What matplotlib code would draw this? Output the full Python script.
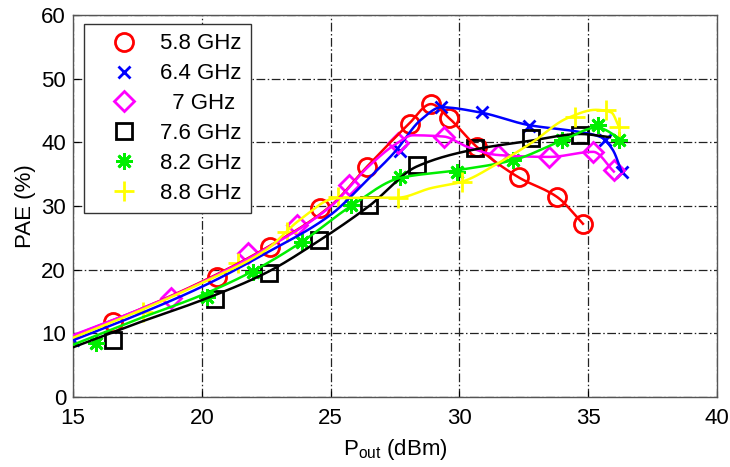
import numpy as np
import matplotlib
matplotlib.use("Agg")
import matplotlib.pyplot as plt
from matplotlib.lines import Line2D

plt.rcParams['font.family'] = ['Liberation Sans', 'DejaVu Sans']

labels = ['5.8 GHz', '6.4 GHz', '  7 GHz', '7.6 GHz', '8.2 GHz', '8.8 GHz']
colors = ['#ff0000', '#0000ff', '#ff00ff', '#000000', '#00ee00', '#ffff00']
markers = ['o', 'x', 'D', 's', (8, 2, 0), '+']
msizes = [13, 9, 10, 11, 12, 14]

# measured points (markers)
f58_x = [16.55, 20.6, 22.65, 24.6, 26.4, 28.1, 28.9, 29.6, 30.7, 32.3, 33.8, 34.8]
f58_y = [11.7, 18.8, 23.6, 29.6, 36.1, 42.9, 46.0, 43.8, 39.2, 34.5, 31.4, 27.2]
f64_x = [15.0, 27.7, 29.3, 30.9, 32.7, 35.65, 36.3]
f64_y = [9.0, 38.6, 45.5, 44.8, 42.5, 40.3, 35.3]
f70_x = [18.8, 21.8, 23.7, 25.7, 27.6, 29.4, 31.5, 33.5, 35.2, 36.0]
f70_y = [15.5, 22.6, 27.0, 33.3, 39.9, 40.8, 38.0, 37.7, 38.5, 35.6]
f76_x = [16.55, 20.5, 22.6, 24.55, 26.5, 28.35, 30.6, 32.8, 34.7]
f76_y = [8.9, 15.4, 19.5, 24.6, 30.1, 36.4, 39.1, 40.6, 41.1]
f82_x = [15.9, 20.2, 22.0, 23.9, 25.8, 27.7, 29.9, 32.1, 34.0, 35.4, 36.2]
f82_y = [8.4, 15.7, 19.6, 24.4, 30.1, 34.5, 35.3, 37.2, 40.3, 42.7, 40.3]
f88_x = [17.7, 21.4, 23.3, 25.3, 27.6, 30.1, 34.5, 35.7, 36.2]
f88_y = [13.3, 21.0, 25.9, 31.4, 31.2, 33.8, 44.0, 45.1, 42.4]

# fitted curves (knots)
c58_x = [15.0, 17.5, 20.0, 22.5, 25.0, 26.4, 28.0, 28.9, 29.6, 30.7, 32.3, 33.8, 34.8]
c58_y = [9.6, 13.6, 18.1, 23.4, 30.0, 36.1, 42.7, 46.0, 43.8, 39.2, 34.5, 31.4, 27.2]
c64_x = [15.0, 17.5, 20.0, 22.5, 25.0, 26.5, 27.5, 28.5, 29.3, 30.8, 32.7, 34.7, 35.5, 35.96, 36.3]
c64_y = [8.9, 12.9, 17.3, 22.6, 28.6, 34.4, 38.5, 43.5, 45.5, 44.7, 42.7, 41.6, 40.8, 38.8, 35.4]
c70_x = [15.0, 17.5, 20.0, 22.5, 25.0, 26.5, 27.6, 28.2, 29.4, 30.3, 31.5, 33.5, 35.2, 36.0]
c70_y = [9.7, 13.6, 18.0, 23.3, 29.9, 36.3, 39.9, 41.1, 40.9, 39.3, 38.0, 37.7, 38.5, 35.4]
c76_x = [15.0, 17.5, 20.0, 22.5, 24.5, 26.5, 28.35, 30.5, 32.7, 34.7, 35.85]
c76_y = [7.8, 11.6, 15.2, 19.5, 24.4, 30.0, 36.2, 38.8, 40.2, 41.3, 40.8]
c82_x = [15.0, 17.5, 20.0, 22.0, 23.9, 25.8, 27.7, 29.9, 32.1, 34.0, 35.35, 36.35]
c82_y = [8.2, 12.2, 16.0, 19.8, 24.4, 30.0, 34.4, 35.6, 37.2, 40.3, 42.3, 40.3]
c88_x = [15.0, 17.5, 20.0, 22.5, 23.8, 25.2, 26.5, 27.6, 28.9, 30.1, 31.5, 32.8, 34.2, 35.3, 35.9, 36.2]
c88_y = [9.3, 13.4, 17.9, 23.1, 27.8, 31.2, 31.3, 31.3, 32.8, 33.8, 36.7, 39.9, 43.8, 45.1, 44.7, 42.4]

points = [(f58_x, f58_y), (f64_x, f64_y), (f70_x, f70_y),
          (f76_x, f76_y), (f82_x, f82_y), (f88_x, f88_y)]
curves = [(c58_x, c58_y), (c64_x, c64_y), (c70_x, c70_y),
          (c76_x, c76_y), (c82_x, c82_y), (c88_x, c88_y)]


def pchip(x, y, n=400):
    """Monotone piecewise cubic (Fritsch-Carlson) through the knots."""
    x = np.asarray(x, float)
    y = np.asarray(y, float)
    h = np.diff(x)
    d = np.diff(y) / h
    m = np.zeros_like(y)
    m[0], m[-1] = d[0], d[-1]
    for k in range(1, len(x) - 1):
        if d[k - 1] * d[k] > 0:
            w1 = 2 * h[k] + h[k - 1]
            w2 = h[k] + 2 * h[k - 1]
            m[k] = (w1 + w2) / (w1 / d[k - 1] + w2 / d[k])
    xs = np.linspace(x[0], x[-1], n)
    idx = np.clip(np.searchsorted(x, xs) - 1, 0, len(x) - 2)
    t = (xs - x[idx]) / h[idx]
    h00 = 2 * t**3 - 3 * t**2 + 1
    h10 = t**3 - 2 * t**2 + t
    h01 = -2 * t**3 + 3 * t**2
    h11 = t**3 - t**2
    ys = h00 * y[idx] + h10 * h[idx] * m[idx] + h01 * y[idx + 1] + h11 * h[idx] * m[idx + 1]
    return xs, ys


fig = plt.figure(figsize=(7.30, 4.67), dpi=100)
ax = fig.add_axes([0.100, 0.150, 0.882, 0.818])

for (px, py), (cx, cy), col, mk, ms in zip(points, curves, colors, markers, msizes):
    ax.plot(px, py, linestyle='none', marker=mk, markersize=ms,
            markerfacecolor='none', markeredgecolor=col, markeredgewidth=2.0,
            zorder=2)
    xs, ys = pchip(cx, cy)
    ax.plot(xs, ys, color=col, linewidth=1.8, zorder=3)

ax.set_xlim(15, 40)
ax.set_ylim(0, 60)
ax.set_xticks([15, 20, 25, 30, 35, 40])
ax.set_yticks([0, 10, 20, 30, 40, 50, 60])
ax.tick_params(direction='in', labelsize=16, length=4, width=0.8)
ax.tick_params(axis='x', pad=8)
ax.tick_params(axis='y', pad=5)
ax.grid(True, color='#222222', linestyle=(0, (7, 2, 1.2, 2)), linewidth=0.9)
ax.set_axisbelow(True)
for s in ax.spines.values():
    s.set_color('#555555')
    s.set_linewidth(1.0)

ax.set_xlabel(r'P$_{\mathregular{out}}$ (dBm)', fontsize=16, labelpad=6)
ax.set_ylabel('PAE (%)', fontsize=16, labelpad=4)

handles = [Line2D([], [], linestyle='none', marker=mk, markersize=ms,
                  markerfacecolor='none', markeredgecolor=col, markeredgewidth=2.0)
           for col, mk, ms in zip(colors, markers, msizes)]
leg = ax.legend(handles, labels, loc='upper left', bbox_to_anchor=(0.017, 0.976),
                borderaxespad=0, fontsize=16, frameon=True, fancybox=False,
                edgecolor='#333333', framealpha=1, handlelength=2.8,
                handletextpad=0.21, labelspacing=0.40, borderpad=0.42)
leg.get_frame().set_linewidth(1.0)

fig.savefig('out.png', dpi=100)
